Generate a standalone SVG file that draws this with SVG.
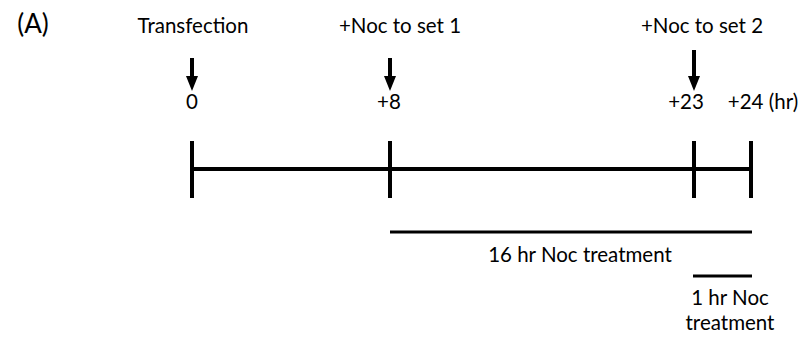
<svg xmlns="http://www.w3.org/2000/svg" width="804" height="339" viewBox="0 0 804 339">
<style>
text{font-family:Lato,"Open Sans","Liberation Sans",sans-serif;font-size:20.5px;fill:#000;text-anchor:middle}
.tl{stroke:#000;stroke-width:4;fill:none}
.bar{stroke:#000;stroke-width:3;fill:none}
.shaft{stroke:#000;stroke-width:4;fill:none}
</style>
<rect width="804" height="339" fill="#fff"/>
<text x="33" y="33" style="font-size:26px">(A)</text>
<g id="timeline">
<line class="tl" x1="192" y1="169" x2="751" y2="169"/>
<line class="tl" x1="192" y1="141" x2="192" y2="198"/>
<line class="tl" x1="390" y1="141" x2="390" y2="198"/>
<line class="tl" x1="694" y1="141" x2="694" y2="198"/>
<line class="tl" x1="751" y1="141" x2="751" y2="198"/>
</g>
<g id="connectors">
<line class="shaft" x1="192" y1="58" x2="192" y2="77"/>
<path d="M186,76 L198,76 L192,91 Z" fill="#000"/>
<line class="shaft" x1="390" y1="58" x2="390" y2="77"/>
<path d="M384,76 L396,76 L390,91 Z" fill="#000"/>
<line class="shaft" x1="694" y1="50" x2="694" y2="77"/>
<path d="M688,76 L700,76 L694,91 Z" fill="#000"/>
</g>
<g id="transfection"><text x="193" y="33">Transfection</text><text x="192" y="109">0</text></g>
<g id="set1"><text x="400" y="33">+Noc to set 1</text><text x="389" y="109">+8</text></g>
<g id="set2"><text x="702" y="33">+Noc to set 2</text><text x="686" y="109">+23</text></g>
<g id="end"><text x="763" y="109">+24 (hr)</text></g>
<g id="noc16">
<line class="bar" x1="390" y1="232" x2="752" y2="232"/>
<text x="580" y="262">16 hr Noc treatment</text>
</g>
<g id="noc1">
<line class="bar" x1="693" y1="276" x2="752" y2="276"/>
<text x="730" y="305"><tspan x="730" y="305">1 hr Noc</tspan><tspan x="730" y="330">treatment</tspan></text>
</g>
</svg>
